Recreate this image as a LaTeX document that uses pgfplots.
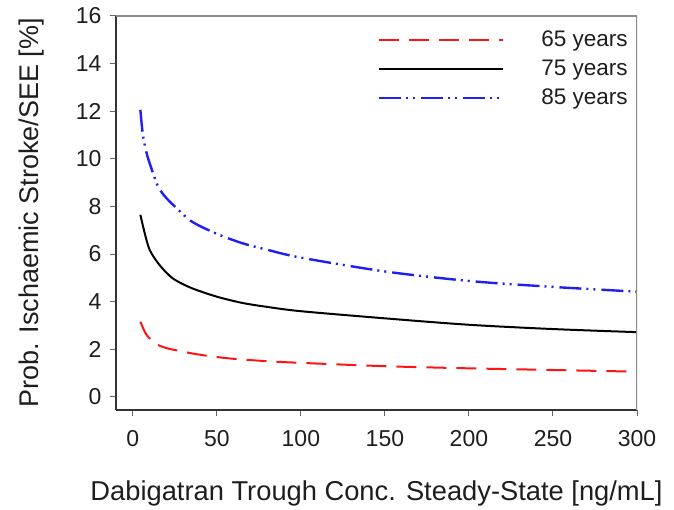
\documentclass[border=0pt]{standalone}
\usepackage{pgfplots}
\pgfplotsset{compat=1.18}
\usepackage{fontspec}
\setmainfont{Liberation Sans}
\definecolor{txt}{RGB}{30,30,30}
\definecolor{myred}{RGB}{255,20,20}
\definecolor{myblue}{RGB}{30,30,245}
\begin{document}
\begin{tikzpicture}
\begin{axis}[
  name=ax,
  scale only axis,
  width=521pt, height=394pt,
  xmin=-10, xmax=300, ymin=-0.55, ymax=16,
  axis lines*=left,
  axis line style={-, line width=1.2pt, black!80},
  xtick={0,50,...,300}, ytick={0,2,...,16},
  tick align=outside,
  major tick length=6pt,
  tick style={line width=1pt, black!60},
  /pgf/number format/assume math mode=true,
  ticklabel style={font=\fontsize{23}{26}\selectfont, text=txt},
  yticklabel style={xshift=-5pt},
  xticklabel style={yshift=-11pt},
  every axis x label/.style={at={(rel axis cs:0.5,0)}, anchor=center, yshift=-83pt},
  every axis y label/.style={at={(rel axis cs:0,0.5)}, anchor=center, rotate=90, yshift=84pt},
  xlabel={Dabigatran Trough Conc. Steady-State [ng/mL]},
  ylabel={Prob. Ischaemic Stroke/SEE [\%]},
  label style={font=\fontsize{27.3}{30}\selectfont, text=txt},
  ylabel style={font=\fontsize{27}{30}\selectfont},
  legend style={draw=none, fill=none, at={(0.503,0.965)}, anchor=north west,
    font=\fontsize{22.5}{25}\selectfont, text=txt, row sep=10pt, inner sep=0pt,
    nodes={inner xsep=2pt, inner ysep=1pt}},
  legend cell align=left,
  legend image code/.code={\draw[#1] (0pt,0pt) -- (124pt,0pt); \path[draw=none, fill=none] (0pt,0pt) -- (160pt,0pt);},
]
\addplot[myred, line width=2pt, dash pattern=on 20pt off 10pt, smooth] coordinates {
(4.5,3.16) (7,2.75) (9,2.53) (12,2.33) (15,2.18) (20,2.05) (25,1.97) (35,1.83) (45,1.72)
(60,1.6) (80,1.5) (100,1.43) (150,1.29) (200,1.2) (250,1.13) (300,1.06)};
\addlegendentry{65 years}
\addplot[black, line width=2pt, smooth] coordinates {
(4.5,7.65) (7,6.9) (10,6.18) (15,5.62) (20,5.22) (25,4.92) (35,4.57) (50,4.21) (65,3.95)
(80,3.78) (100,3.6) (150,3.3) (200,3.03) (250,2.85) (300,2.72)};
\addlegendentry{75 years}
\addplot[myblue, line width=2.4pt, dash pattern=on 22pt off 5pt on 2pt off 5pt on 2pt off 6pt, smooth] coordinates {
(4.5,12.06) (6,11.0) (8,10.3) (10,9.82) (15,8.84) (20,8.35) (25,8.0) (35,7.37) (50,6.85)
(65,6.46) (80,6.18) (100,5.85) (150,5.27) (200,4.87) (250,4.62) (300,4.42)};
\addlegendentry{85 years}
\draw[line width=1.2pt, black!45] (rel axis cs:0,1) -- (rel axis cs:1,1) -- (rel axis cs:1,0);
\end{axis}
\path ([xshift=-116pt,yshift=-96pt]ax.south west) rectangle ([xshift=37pt,yshift=16pt]ax.north east);
\end{tikzpicture}
\end{document}
